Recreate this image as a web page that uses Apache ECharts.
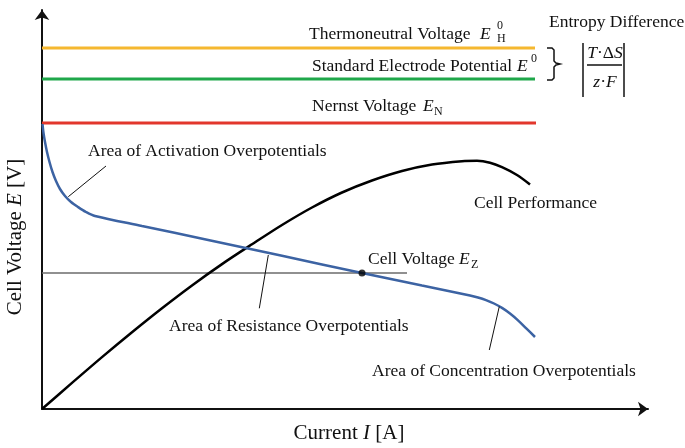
<!DOCTYPE html>
<html>
<head>
<meta charset="utf-8">
<script src="https://cdn.jsdelivr.net/npm/echarts@6/dist/echarts.min.js"></script>
<style>html,body{margin:0;padding:0;background:#fff;}#c{width:685px;height:448px;}</style>
</head>
<body>
<div id="c"></div>
<script>
// Schematic values (arbitrary units: current x, voltage y)
var thermoneutral = [[0, 361], [493, 361]];
var standardPotential = [[0, 330], [493, 330]];
var nernst = [[0, 286], [494, 286]];
var cellVoltageCurve = [[0.5, 285], [1.5, 276], [3, 267], [5, 257], [7.5, 247], [10.5, 237], [14, 228], [18, 220], [23, 213], [29, 207], [36, 202], [44, 197], [53, 193], [100, 183], [165, 169.3], [240, 153.2], [320, 136], [380, 123.5], [428, 113.5], [436, 111.5], [444, 108.9], [452, 105.5], [460, 101.1], [468, 95.5], [476, 88.7], [484, 80.9], [493, 72]];
var cellPerformance = [[0, 0], [30, 26.1], [60, 51.9], [90, 76.8], [120, 100.8], [150, 123.6], [180, 144.9], [210, 164.7], [240, 184], [270, 201.5], [300, 216.5], [330, 228.5], [360, 238], [390, 244.5], [420, 247.8], [435, 248.2], [448, 246.3], [460, 241.8], [475, 234], [488, 224.5]];
var operatingLine = [[0, 136], [365, 136]];
var operatingPoint = [[320, 136]];
var leaderActivation = [[26.3, 212.3], [64, 243]];
var leaderResistance = [[226.3, 154], [217.3, 100.7]];
var leaderConcentration = [[457.3, 102.5], [447.3, 59]];

var chart = echarts.init(document.getElementById('c'), null, {renderer: 'canvas'});
var SERIF = '"Liberation Serif", "Times New Roman", serif';
var FS = 17.5;
function ln(data, color, width, smooth) {
  return {type: 'line', data: data, symbol: 'none', silent: true, smooth: smooth || false,
    lineStyle: {color: color, width: width}, z: 3};
}
function txt(x, y, text, opts) {
  opts = opts || {};
  var sz = opts.size || FS;
  return {type: 'text', x: x, y: y, rotation: opts.rot || 0, z: 10,
    style: {text: text, font: (opts.italic ? 'italic ' : '') + sz + 'px ' + SERIF,
      fill: '#111', align: opts.align || 'left', verticalAlign: 'middle',
      rich: {i: {fontStyle: 'italic', fontFamily: SERIF, fontSize: sz, fill: '#111'}}}};
}
var option = {
  animation: false,
  backgroundColor: '#fff',
  grid: {left: 42, right: 37, top: 10, bottom: 39},
  xAxis: {type: 'value', min: 0, max: 606,
    axisLine: {show: true, onZero: false, symbol: ['none', 'arrow'], symbolSize: [11, 10], lineStyle: {color: '#111', width: 2}},
    axisTick: {show: false}, axisLabel: {show: false}, splitLine: {show: false}},
  yAxis: {type: 'value', min: 0, max: 399,
    axisLine: {show: true, onZero: false, symbol: ['none', 'arrow'], symbolSize: [11, 10], lineStyle: {color: '#111', width: 2}},
    axisTick: {show: false}, axisLabel: {show: false}, splitLine: {show: false}},
  series: [
    ln(thermoneutral, '#F5B830', 3),
    ln(standardPotential, '#1FA74A', 3),
    ln(nernst, '#E2372C', 3),
    ln(operatingLine, '#6b6b6b', 1.5),
    ln(cellPerformance, '#000', 2.5, 0.3),
    ln(cellVoltageCurve, '#3C63A3', 2.5, 0.3),
    ln(leaderActivation, '#111', 1),
    ln(leaderResistance, '#111', 1),
    ln(leaderConcentration, '#111', 1),
    {type: 'scatter', data: operatingPoint, symbol: 'circle', symbolSize: 7, itemStyle: {color: '#000'}, silent: true, z: 5}
  ],
  graphic: [
    txt(309, 34, 'Thermoneutral Voltage'),
    txt(480, 34, 'E', {italic: true}),
    txt(497, 39, 'H', {size: 12}),
    txt(497, 26, '0', {size: 12}),
    txt(312, 66, 'Standard Electrode Potential'),
    txt(517, 66, 'E', {italic: true}),
    txt(531, 59, '0', {size: 12}),
    txt(312, 106, 'Nernst Voltage'),
    txt(423, 106, 'E', {italic: true}),
    txt(434, 112, 'N', {size: 12}),
    txt(549, 22, 'Entropy Difference'),
    txt(605, 53, '{i|T}·Δ{i|S}', {align: 'center'}),
    txt(605, 82, '{i|z}·{i|F}', {align: 'center'}),
    {type: 'line', shape: {x1: 587, y1: 65, x2: 622, y2: 65}, style: {stroke: '#111', lineWidth: 1.5}},
    {type: 'line', shape: {x1: 583, y1: 43, x2: 583, y2: 97}, style: {stroke: '#111', lineWidth: 1.5}},
    {type: 'line', shape: {x1: 624, y1: 43, x2: 624, y2: 97}, style: {stroke: '#111', lineWidth: 1.5}},
    {type: 'polyline', shape: {points: [[547, 48], [552, 48], [554, 50], [554, 61], [556, 63], [560, 64], [556, 65], [554, 67], [554, 78], [552, 80], [547, 80]]}, style: {stroke: '#111', lineWidth: 1.5, fill: null}},
    txt(88, 151, 'Area of Activation Overpotentials'),
    txt(474, 203, 'Cell Performance'),
    txt(368, 259, 'Cell Voltage'),
    txt(459, 259, 'E', {italic: true}),
    txt(471, 265, 'Z', {size: 12}),
    txt(169, 326, 'Area of Resistance Overpotentials'),
    txt(372, 371, 'Area of Concentration Overpotentials'),
    txt(349, 433, 'Current {i|I} [A]', {align: 'center', size: 21}),
    txt(15, 237, 'Cell Voltage {i|E} [V]', {align: 'center', rot: Math.PI / 2, size: 21})
  ]
};
chart.setOption(option);
</script>
</body>
</html>
